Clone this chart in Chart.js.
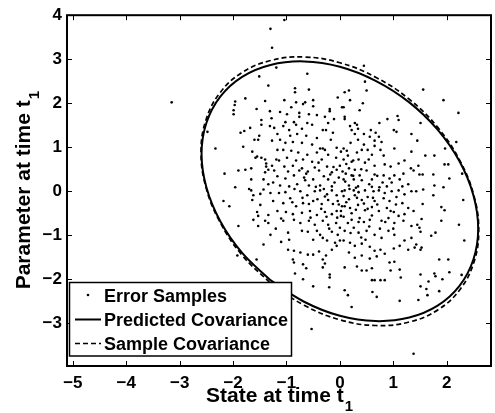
<!DOCTYPE html>
<html>
<head>
<meta charset="utf-8">
<script src="https://cdn.jsdelivr.net/npm/chart.js@4.4.1/dist/chart.umd.min.js"></script>
<style>
  html, body { margin: 0; padding: 0; background: #fff; }
</style>
</head>
<body>
<canvas id="chart" width="495" height="413"></canvas>
<script>
// ── Data ────────────────────────────────────────────────────
const xRange = [-5.11, 2.83];
const yRange = [-3.97, 4];
const xTicks = [-5, -4, -3, -2, -1, 0, 1, 2];
const yTicks = [-3, -2, -1, 0, 1, 2, 3, 4];

const legendLabels = ['Error Samples', 'Predicted Covariance', 'Sample Covariance'];
const xTitle = 'State at time t';
const yTitle = 'Parameter at time t';
const titleSub = '1';

// error samples, x and y in the same order
const sampleX = [
  -3.15,-1.30,-1.27,-1.04,1.38,-0.53,0.45,1.56,1.94,2.22,
  1.51,1.45,2.18,1.97,1.60,1.77,1.96,2.03,2.29,1.38,
  1.47,1.49,1.55,1.75,2.05,1.77,1.94,1.56,1.43,1.75,
  2.31,1.55,1.90,1.96,1.53,1.90,2.23,1.45,1.49,1.51,
  1.71,1.79,2.33,1.43,1.53,1.51,1.86,2.03,2.05,1.51,
  1.77,1.79,2.28,1.51,1.62,1.86,1.64,1.47,1.92,1.66,
  0.47,0.17,0.09,0.50,0.19,0.43,0.07,0.37,0.09,0.09,
  1.08,1.10,0.89,0.74,0.28,0.32,0.19,0.22,0.34,0.58,
  1.06,1.34,0.28,0.45,0.67,1.01,0.56,0.73,0.34,0.65,
  0.78,0.20,0.45,0.65,0.07,0.13,0.41,0.52,0.76,1.02,
  1.34,0.32,0.60,0.82,0.15,0.07,0.22,0.35,0.47,0.54,
  0.65,0.84,0.95,1.10,1.21,0.17,0.28,0.50,0.11,0.22,
  0.37,0.65,0.82,1.02,1.19,1.33,0.07,0.26,0.41,0.60,
  0.93,0.97,1.12,1.28,0.17,0.34,0.74,0.88,1.17,0.55,
  -1.19,-0.61,-0.84,-0.84,-0.58,-0.04,-1.04,-0.82,-0.69,-0.65,
  -0.50,-0.50,-0.91,-0.19,-0.19,0.04,-1.31,-1.12,-0.99,-0.76,
  -0.76,-0.58,-0.43,-0.28,-1.02,-0.86,-0.82,-0.61,-0.52,-0.22,
  -0.11,-1.31,-1.23,-1.06,-0.95,-0.71,-0.32,-0.26,-0.13,-1.17,
  -0.93,-0.80,-0.63,-0.43,-0.17,-1.27,-1.12,-1.02,-0.88,-0.71,
  -0.52,-0.37,-0.32,-0.28,-0.06,0.02,-1.17,-1.06,-0.91,-0.78,
  -0.61,-0.43,-0.22,-1.19,-1.14,-0.99,-0.82,-0.69,-0.52,-0.34,
  -0.07,-1.27,-1.04,-0.88,-0.71,-0.47,-0.24,0.00,-1.23,-0.97,
  -0.76,-0.63,-0.39,-0.15,-0.06,-1.17,-1.02,-0.86,-0.67,-0.50,
  -0.30,-0.22,-0.02,-1.25,-1.12,-0.95,-0.80,-0.58,-0.37,-0.15,
  -1.51,-1.34,-1.77,-1.97,-1.96,-1.99,-1.99,-1.56,-1.40,-1.47,
  -1.28,-1.47,-1.68,-1.79,-1.86,-2.48,-1.51,-1.60,-1.53,-2.33,
  -1.81,-1.64,-1.58,-1.55,-1.47,-1.40,-1.38,-1.66,-1.77,-1.90,
  -2.16,-1.38,-1.34,-1.40,-1.66,-1.43,-1.34,-1.96,-1.43,-1.70,
  -2.18,-2.07,-1.64,-1.62,-1.49,-1.55,-1.62,-1.53,-1.40,-1.34,
  -1.34,-1.53,-1.90,-1.30,-1.43,-1.92,-1.56,-1.66,-1.30,-1.49,
  -1.14,-1.02,-0.93,-0.74,-0.61,-0.47,-0.37,-0.24,-0.15,-0.06,
  0.04,-1.25,-1.06,-0.89,-0.82,-0.69,-0.58,-0.50,-0.34,-0.22,
  -0.13,-0.04,0.04,-1.17,-1.01,-0.88,-0.71,-0.56,-0.43,-0.28,
  -0.15,-0.06,0.02,-1.06,-0.86,-0.74,-0.58,-0.47,-0.32,-0.22,
  -0.07,0.00,-0.97,-0.71,-0.60,-0.43,-0.37,-0.15,-0.04,-0.50,
  -0.32,-0.24,-0.09,0.00,-0.97,-0.86,-0.74,-0.60,-0.50,-0.39,
  -0.26,-0.15,-0.06,-0.88,-0.86,-0.69,-0.63,-0.32,-0.32,-0.28,
  -0.84,-0.19,-0.19,-0.69,-0.50,-0.20,-1.10,-0.95,-1.20,-1.10,
  0.09,0.26,0.35,0.47,0.63,0.73,0.84,0.97,1.10,1.21,
  1.34,0.07,0.17,0.28,0.41,0.52,0.65,0.82,0.93,1.06,
  1.17,1.28,1.38,0.09,0.19,0.34,0.47,0.60,0.73,0.88,
  1.01,1.10,1.21,0.07,0.22,0.37,0.45,0.56,0.78,0.91,
  1.02,1.19,1.34,0.09,0.26,0.35,0.50,0.65,0.78,0.91,
  1.02,1.21,1.34,0.07,0.19,0.28,0.41,0.56,0.65,0.76,
  0.84,1.01,1.12,1.28,1.40,0.17,0.28,0.41,0.56,0.69,
  0.93,1.02,0.09,0.32,0.41,0.50,0.60,0.95,1.12,1.14,
  0.60,0.65,0.76,0.84,0.09,0.15,0.61,0.69,0.22,1.12,
  -0.45,-0.28,-0.10,0.12,0.30,0.22,-0.35,0.45,0.60,-0.18,
  0.05,0.40,-0.55,0.15,0.55,-0.05,0.32,0.70,0.85,0.10,
  -0.65,-0.40,0.25,0.60,0.95,-0.20,0.40,0.20,0.75,-0.70,
  -0.30,0.02,0.35,0.52,-0.12,0.70,1.05,-0.85,0.25,0.48,
  -0.42,0.12,0.80,1.00,-0.60,0.30,-0.02,0.62,0.18,-0.25
];
const sampleY = [
  2.02,3.69,3.26,3.89,-3.69,-3.13,2.85,2.31,2.07,1.78,
  1.55,1.15,1.12,0.97,0.81,0.81,0.61,0.61,0.40,0.47,
  0.58,0.38,0.38,0.38,0.29,0.13,0.09,0.04,0.00,-0.09,
  -0.20,-0.29,-0.36,-0.43,-0.63,-0.67,-0.76,-0.76,-0.83,-0.92,
  -1.01,-0.94,-1.12,-1.21,-1.28,-1.33,-1.55,-1.55,-1.84,-1.89,
  -1.87,-1.93,-1.90,-2.16,-2.22,-2.27,-2.36,-2.47,-2.00,-2.05,
  2.49,2.29,2.25,2.29,2.07,2.00,1.91,1.84,1.69,1.64,
  1.71,1.62,1.64,1.55,1.55,1.51,1.48,1.39,1.42,1.39,
  1.35,1.30,1.30,1.30,1.33,1.39,1.24,1.24,1.17,1.15,
  1.12,1.10,1.06,1.03,0.97,0.92,0.94,0.94,0.94,0.97,
  0.90,0.88,0.83,0.81,0.81,0.72,0.67,0.72,0.65,0.72,
  0.58,0.61,0.56,0.63,0.70,0.52,0.49,0.47,0.40,0.36,
  0.36,0.38,0.36,0.36,0.40,0.52,0.27,0.27,0.25,0.27,
  0.29,0.20,0.27,0.16,0.13,0.11,0.09,0.11,0.11,0.16,
  2.81,2.67,2.34,2.25,2.31,2.13,2.07,2.02,1.98,2.02,
  2.07,1.93,1.91,1.87,1.82,1.91,1.82,1.80,1.75,1.78,
  1.69,1.75,1.73,1.69,1.57,1.57,1.51,1.55,1.51,1.55,
  1.64,1.48,1.44,1.48,1.39,1.42,1.39,1.39,1.33,1.30,
  1.26,1.30,1.26,1.21,1.17,1.15,1.17,1.10,1.12,1.10,
  1.06,0.97,0.97,0.94,0.99,0.90,0.94,0.94,0.92,0.88,
  0.83,0.88,0.83,0.72,0.70,0.76,0.70,0.72,0.67,0.72,
  0.76,0.58,0.56,0.58,0.52,0.54,0.56,0.58,0.47,0.45,
  0.47,0.40,0.47,0.43,0.49,0.34,0.29,0.36,0.31,0.27,
  0.34,0.27,0.31,0.20,0.13,0.11,0.16,0.13,0.13,0.11,
  2.61,2.40,2.11,1.96,2.04,1.84,1.75,1.87,2.05,1.62,
  1.66,1.51,1.44,1.37,1.33,1.35,1.26,1.17,1.17,0.97,
  1.01,0.90,0.76,0.79,0.76,0.72,0.63,0.52,0.49,0.47,
  0.40,0.56,0.49,0.43,0.27,0.27,0.16,0.09,0.04,0.05,
  -0.22,-0.34,-0.20,-0.09,-0.31,-0.47,-0.65,-0.56,-0.67,-0.54,
  -0.72,-0.79,-0.79,-0.99,-1.21,-1.46,-1.55,0.02,-0.04,-0.06,
  -0.04,-0.02,-0.16,0.00,-0.09,0.00,0.02,-0.07,0.02,-0.09,
  0.00,-0.22,-0.27,-0.25,-0.34,-0.27,-0.29,-0.22,-0.29,-0.20,
  -0.29,-0.22,-0.34,-0.45,-0.47,-0.52,-0.49,-0.45,-0.54,-0.47,
  -0.52,-0.45,-0.56,-0.67,-0.65,-0.72,-0.67,-0.76,-0.67,-0.76,
  -0.72,-0.83,-0.94,-0.90,-0.92,-0.90,-0.99,-0.92,-0.99,-1.10,
  -1.06,-1.12,-1.17,-1.12,-1.33,-1.35,-1.39,-1.44,-1.44,-1.37,
  -1.46,-1.33,-1.24,-1.55,-1.62,-1.66,-1.75,-1.55,-1.73,-1.64,
  -1.87,-1.89,-1.96,-2.00,-2.16,-2.18,-1.15,-1.10,-0.85,-0.62,
  0.02,0.02,-0.02,0.02,0.00,0.02,-0.04,0.00,0.02,-0.07,
  0.00,-0.11,-0.18,-0.09,-0.20,-0.13,-0.22,-0.16,-0.22,-0.13,
  -0.27,-0.38,-0.45,-0.34,-0.38,-0.31,-0.43,-0.36,-0.45,-0.38,
  -0.47,-0.56,-0.52,-0.58,-0.65,-0.61,-0.70,-0.65,-0.67,-0.61,
  -0.72,-0.67,-0.79,-0.90,-0.83,-0.94,-0.90,-0.99,-1.06,-0.90,
  -0.99,-1.12,-1.06,-1.12,-1.17,-1.24,-1.19,-1.26,-1.35,-1.33,
  -1.42,-1.30,-1.24,-1.33,-1.28,-1.39,-1.51,-1.46,-1.53,-1.48,
  -1.62,-1.60,-1.73,-1.71,-1.80,-1.80,-1.75,-1.80,-1.78,-1.96,
  -2.02,-2.02,-2.02,-2.02,-2.25,-2.36,-2.29,-2.40,-2.63,-2.49,
  0.10,-0.12,0.20,-0.25,0.08,-0.50,-0.40,-0.28,-0.55,0.38,
  0.45,0.50,-0.60,-0.72,-0.80,-0.60,-0.15,-0.30,-0.70,0.22,
  0.25,0.65,0.70,0.10,-0.45,-0.85,-1.05,-0.95,-0.85,-0.15,
  0.05,-0.45,-0.70,-0.40,0.55,0.35,-0.30,0.05,0.35,-1.10,
  -0.18,0.62,0.20,-0.85,0.45,-0.42,-0.30,-0.15,0.05,-0.58
];

// predicted covariance ellipse (solid), traced round from lower left
const predX = [-1.30,-0.67,0.00,0.67,1.30,1.83,2.24,2.50,2.59,2.50,2.24,1.83,1.30,
               0.67,0.00,-0.67,-1.30,-1.83,-2.24,-2.50,-2.59,-2.50,-2.24,-1.83,-1.30];
const predY = [-2.02,-2.51,-2.83,-2.95,-2.87,-2.60,-2.15,-1.55,-0.85,-0.09,0.68,1.40,2.02,
               2.51,2.83,2.95,2.87,2.60,2.15,1.55,0.85,0.09,-0.68,-1.40,-2.02];

// sample covariance ellipse (dashed)
const sampX = [-1.30,-0.67,0.00,0.67,1.30,1.84,2.25,2.51,2.60,2.51,2.25,1.84,1.30,
               0.67,0.00,-0.67,-1.30,-1.84,-2.25,-2.51,-2.60,-2.51,-2.25,-1.84,-1.30];
const sampY = [-2.09,-2.59,-2.92,-3.05,-2.97,-2.69,-2.23,-1.61,-0.89,-0.10,0.69,1.44,2.09,
               2.59,2.92,3.05,2.97,2.69,2.23,1.61,0.89,0.10,-0.69,-1.44,-2.09];

// ── Helpers ──────────────────────────────────────────────────
const FONT = "'Liberation Sans', Arial, Helvetica, sans-serif";
const toPts = (xs, ys) => xs.map((x, i) => ({ x, y: ys[i] }));
const fmtTick = (v) => (v < 0 ? '\u2212' + Math.abs(v) : String(v));
const keepTicks = (list) => (scale) => {
  scale.ticks = list.map((v) => ({ value: v }));
};

// ── Frame, inward ticks, legend and axis titles ──────────────
const framePlugin = {
  id: 'frame',
  afterDraw(chart) {
    const { ctx, chartArea: a } = chart;
    const xs = chart.scales.x;
    const ys = chart.scales.y;
    const seg = (x1, y1, x2, y2) => {
      ctx.beginPath();
      ctx.moveTo(x1, y1);
      ctx.lineTo(x2, y2);
      ctx.stroke();
    };

    ctx.save();
    ctx.strokeStyle = '#000';
    ctx.lineWidth = 1;
    const tl = 5;
    xs.ticks.forEach((t) => {
      const p = Math.round(xs.getPixelForValue(t.value)) + 0.5;
      seg(p, a.bottom, p, a.bottom - tl);
      seg(p, a.top, p, a.top + tl);
    });
    ys.ticks.forEach((t) => {
      const p = Math.round(ys.getPixelForValue(t.value)) + 0.5;
      seg(a.left, p, a.left + tl, p);
      seg(a.right, p, a.right - tl, p);
    });

    // axes box
    ctx.lineWidth = 2;
    ctx.strokeRect(a.left, a.top, a.right - a.left, a.bottom - a.top);

    // legend
    const lx = 69.5, ly = 282.5, lw = 222, lh = 73.5;
    ctx.fillStyle = '#fff';
    ctx.fillRect(lx, ly, lw, lh);
    ctx.lineWidth = 1.5;
    ctx.strokeRect(lx, ly, lw, lh);

    ctx.fillStyle = '#000';
    ctx.beginPath();
    ctx.arc(88, 295, 1.3, 0, Math.PI * 2);
    ctx.fill();

    ctx.lineWidth = 2;
    seg(75, 319.5, 101, 319.5);
    ctx.lineWidth = 1.7;
    ctx.setLineDash([5, 3]);
    seg(75, 343.5, 101, 343.5);
    ctx.setLineDash([]);

    ctx.font = 'bold 18px ' + FONT;
    ctx.textAlign = 'left';
    ctx.textBaseline = 'alphabetic';
    ctx.fillText(legendLabels[0], 104, 302);
    ctx.fillText(legendLabels[1], 104, 326);
    ctx.fillText(legendLabels[2], 104, 350);

    // axis titles with subscript
    const mainFont = 'bold 21px ' + FONT;
    const subFont = 'bold 15px ' + FONT;
    const drawTitle = (text, cx, baseY) => {
      ctx.font = mainFont;
      const w1 = ctx.measureText(text).width;
      ctx.font = subFont;
      const w2 = ctx.measureText(titleSub).width;
      const x0 = cx - (w1 + w2) / 2;
      ctx.font = mainFont;
      ctx.fillText(text, x0, baseY);
      ctx.font = subFont;
      ctx.fillText(titleSub, x0 + w1 + 1, baseY + 9);
    };
    drawTitle(xTitle, (a.left + a.right) / 2, 402);

    ctx.save();
    ctx.translate(30, (a.top + a.bottom) / 2);
    ctx.rotate(-Math.PI / 2);
    drawTitle(yTitle, 0, 0);
    ctx.restore();

    ctx.restore();
  },
};

// ── Chart ────────────────────────────────────────────────────
const ctx = document.getElementById('chart').getContext('2d');

new Chart(ctx, {
  type: 'scatter',
  data: {
    datasets: [
      {
        label: legendLabels[0],
        data: toPts(sampleX, sampleY),
        showLine: false,
        pointRadius: 1.3,
        pointBorderWidth: 0,
        pointBackgroundColor: '#000',
      },
      {
        label: legendLabels[1],
        data: toPts(predX, predY),
        showLine: true,
        borderColor: '#000',
        borderWidth: 2,
        pointRadius: 0,
        tension: 0.4,
        fill: false,
      },
      {
        label: legendLabels[2],
        data: toPts(sampX, sampY),
        showLine: true,
        borderColor: '#000',
        borderWidth: 1.7,
        borderDash: [5, 3],
        pointRadius: 0,
        tension: 0.4,
        fill: false,
      },
    ],
  },
  options: {
    responsive: false,
    animation: false,
    layout: { padding: { top: 11, right: 1, left: 0, bottom: 0 } },
    plugins: {
      legend: { display: false },
      tooltip: { enabled: false },
    },
    scales: {
      x: {
        type: 'linear',
        min: xRange[0],
        max: xRange[1],
        grid: { display: false, drawTicks: false },
        border: { display: false },
        afterBuildTicks: keepTicks(xTicks),
        afterFit: (s) => { s.height = 47; },
        ticks: {
          color: '#000',
          padding: 7,
          maxRotation: 0,
          autoSkip: false,
          font: { family: FONT, size: 17, weight: 'bold' },
          callback: fmtTick,
        },
      },
      y: {
        type: 'linear',
        min: yRange[0],
        max: yRange[1],
        grid: { display: false, drawTicks: false },
        border: { display: false },
        afterBuildTicks: keepTicks(yTicks),
        afterFit: (s) => { s.width = 67; },
        ticks: {
          color: '#000',
          padding: 5,
          autoSkip: false,
          font: { family: FONT, size: 17, weight: 'bold' },
          callback: fmtTick,
        },
      },
    },
  },
  plugins: [framePlugin],
});
</script>
</body>
</html>
